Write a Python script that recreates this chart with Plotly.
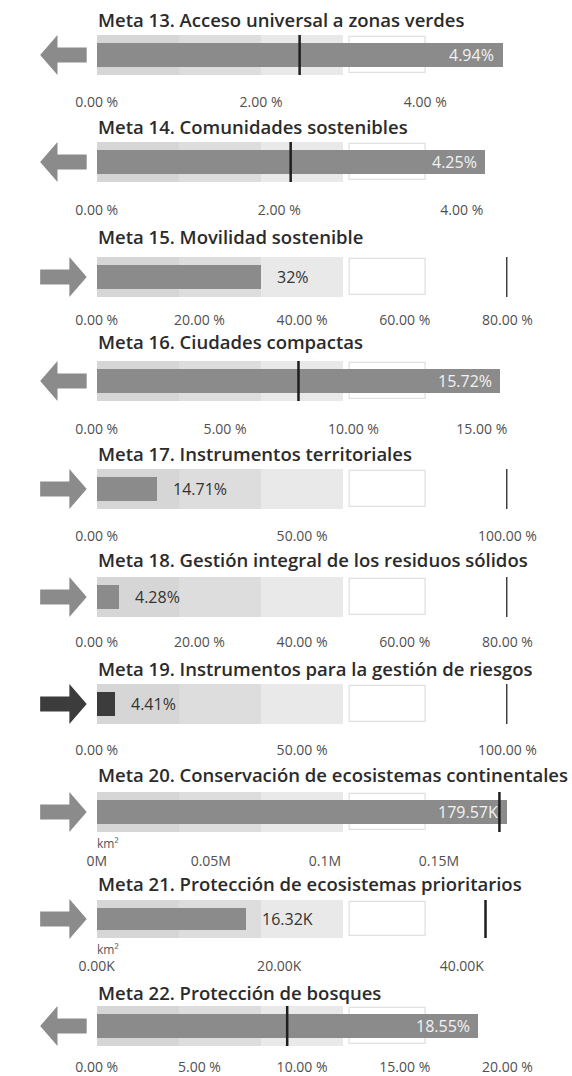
import plotly.graph_objects as go

# ---------------- data ----------------
titles = [
    "Meta 13. Acceso universal a zonas verdes",
    "Meta 14. Comunidades sostenibles",
    "Meta 15. Movilidad sostenible",
    "Meta 16. Ciudades compactas",
    "Meta 17. Instrumentos territoriales",
    "Meta 18. Gestión integral de los residuos sólidos",
    "Meta 19. Instrumentos para la gestión de riesgos",
    "Meta 20. Conservación de ecosistemas continentales",
    "Meta 21. Protección de ecosistemas prioritarios",
    "Meta 22. Protección de bosques",
]
values = [4.94, 4.25, 32, 15.72, 14.71, 4.28, 4.41, 179570, 16320, 18.55]
value_labels = ["4.94%", "4.25%", "32%", "15.72%", "14.71%", "4.28%", "4.41%",
                "179.57K", "16.32K", "18.55%"]
targets = [2.47, 2.125, 80, 7.86, 100, 80, 100, 176500, 42600, 9.275]
axis_max = [5, 4.5, 80, 16, 100, 80, 100, 180000, 45000, 20]
tick_values = [
    [0, 2, 4],
    [0, 2, 4],
    [0, 20, 40, 60, 80],
    [0, 5, 10, 15],
    [0, 50, 100],
    [0, 20, 40, 60, 80],
    [0, 50, 100],
    [0, 50000, 100000, 150000],
    [0, 20000, 40000],
    [0, 5, 10, 15, 20],
]
tick_labels = [
    ["0.00 %", "2.00 %", "4.00 %"],
    ["0.00 %", "2.00 %", "4.00 %"],
    ["0.00 %", "20.00 %", "40.00 %", "60.00 %", "80.00 %"],
    ["0.00 %", "5.00 %", "10.00 %", "15.00 %"],
    ["0.00 %", "50.00 %", "100.00 %"],
    ["0.00 %", "20.00 %", "40.00 %", "60.00 %", "80.00 %"],
    ["0.00 %", "50.00 %", "100.00 %"],
    ["0M", "0.05M", "0.1M", "0.15M"],
    ["0.00K", "20.00K", "40.00K"],
    ["0.00 %", "5.00 %", "10.00 %", "15.00 %", "20.00 %"],
]
directions = ["left", "left", "right", "left", "right", "right", "right",
              "right", "right", "left"]
units = ["", "", "", "", "", "", "", "km²", "km²", ""]
band_fractions = [0.2, 0.4, 0.6, 0.8]

# ---------------- layout / style ----------------
W, H = 572, 1076
X0, X1 = 83, 533                     # axis pixel extent
# per panel: (title_y, band_top, band_bottom, label_center_y)
panel_px = [
    (20, 35, 75, 102),
    (127, 142, 182, 210),
    (236, 257, 297, 320),
    (342, 361, 401, 429),
    (453, 469, 509, 536),
    (559, 577, 617, 642),
    (668, 684, 724, 750),
    (774, 792, 832, 861),
    (883, 900, 938, 966),
    (992, 1006, 1046, 1067),
]
BAR_GRAY = "#8b8b8b"
DARK = "#3c3c3c"
HIGHLIGHT = 6
BAND_COLORS = ["#d6d6d6", "#dddddd", "#e9e9e9", "#ffffff"]
FONT = "Open Sans"


def py(y):
    return 1 - y / H


def px(x):
    return x / W


fig = go.Figure()
shapes = []
annotations = []

for i in range(len(titles)):
    n = "" if i == 0 else str(i + 1)
    xa, ya = "x" + n, "y" + n
    t_y, b_top, b_bot, lab_y = panel_px[i]
    cy = (b_top + b_bot) / 2
    m = axis_max[i]
    col = DARK if i == HIGHLIGHT else BAR_GRAY

    # background bands
    prev = 0
    for k, f in enumerate(band_fractions):
        end = f * m
        start = prev
        if k == len(band_fractions) - 1:
            start = prev + 0.015 * m
            fig.add_trace(go.Bar(
                x=[end - start], base=[start], y=[0], orientation="h", width=0.88,
                marker=dict(color=BAND_COLORS[k], line=dict(color="#e0e0e0", width=1.3)),
                xaxis=xa, yaxis=ya, hoverinfo="skip", showlegend=False))
        else:
            fig.add_trace(go.Bar(
                x=[end - start], base=[start], y=[0], orientation="h", width=1.0,
                marker=dict(color=BAND_COLORS[k], line=dict(width=0)),
                xaxis=xa, yaxis=ya, hoverinfo="skip", showlegend=False))
        prev = end

    # value bar
    fig.add_trace(go.Bar(
        x=[values[i]], base=[0], y=[0], orientation="h", width=0.6,
        marker=dict(color=col, line=dict(width=0)),
        xaxis=xa, yaxis=ya, hoverinfo="skip", showlegend=False))

    # target marker
    fig.add_trace(go.Scatter(
        x=[targets[i]], y=[0], mode="markers",
        marker=dict(symbol="line-ns", size=34, line=dict(width=2.5, color="#1e1e1e")),
        xaxis=xa, yaxis=ya, hoverinfo="skip", showlegend=False))

    # value label
    inside = values[i] / m > 0.5
    annotations.append(dict(
        x=values[i], y=0, xref=xa, yref=ya, text=value_labels[i], showarrow=False,
        xanchor="right" if inside else "left", xshift=-6 if inside else 14,
        font=dict(family=FONT, size=16, color="#f2f2f2" if inside else "#333333")))

    # title
    annotations.append(dict(
        x=px(X0 - 1), y=py(t_y), xref="paper", yref="paper", text=titles[i],
        showarrow=False, xanchor="left", yanchor="middle",
        font=dict(family=FONT, size=18.5, color="#2b2b2b", weight=600)))

    # unit label
    if units[i]:
        annotations.append(dict(
            x=px(X0 - 2), y=py(b_bot + 11), xref="paper", yref="paper", text=units[i],
            showarrow=False, xanchor="left", yanchor="middle",
            font=dict(family=FONT, size=12, color="#555555")))

    # direction arrow (decoration)
    acol = DARK if i == HIGHLIGHT else BAR_GRAY
    hh, sh = 20, 7.5
    if directions[i] == "left":
        pts = [(21, cy), (40, cy - hh), (40, cy - sh), (72, cy - sh),
               (72, cy + sh), (40, cy + sh), (40, cy + hh)]
    else:
        pts = [(72, cy), (53, cy - hh), (53, cy - sh), (21, cy - sh),
               (21, cy + sh), (53, cy + sh), (53, cy + hh)]
    path = "M " + " L ".join(f"{px(a):.5f},{py(b):.5f}" for a, b in pts) + " Z"
    shapes.append(dict(type="path", path=path, xref="paper", yref="paper",
                       fillcolor=acol, line=dict(width=0), layer="above"))

    # axes
    standoff = lab_y - b_bot - 10
    fig.layout["xaxis" + n] = dict(
        domain=[px(X0), px(X1)], range=[0, m], anchor=ya,
        tickvals=tick_values[i], ticktext=tick_labels[i], ticks="",
        showgrid=False, zeroline=False, showline=False, fixedrange=True,
        ticklabelstandoff=standoff,
        tickfont=dict(family=FONT, size=14, color="#505050"))
    fig.layout["yaxis" + n] = dict(
        domain=[py(b_bot), py(b_top)], range=[-0.5, 0.5], anchor=xa,
        visible=False, fixedrange=True)

fig.update_layout(
    width=W, height=H, margin=dict(l=0, r=0, t=0, b=0),
    paper_bgcolor="white", plot_bgcolor="rgba(0,0,0,0)",
    barmode="overlay", bargap=0, showlegend=False,
    shapes=shapes, annotations=annotations,
)

fig.write_html(
    "out.html",
    config={"displayModeBar": False},
    post_script="document.body.style.margin='0';document.body.style.overflow='hidden';",
)
